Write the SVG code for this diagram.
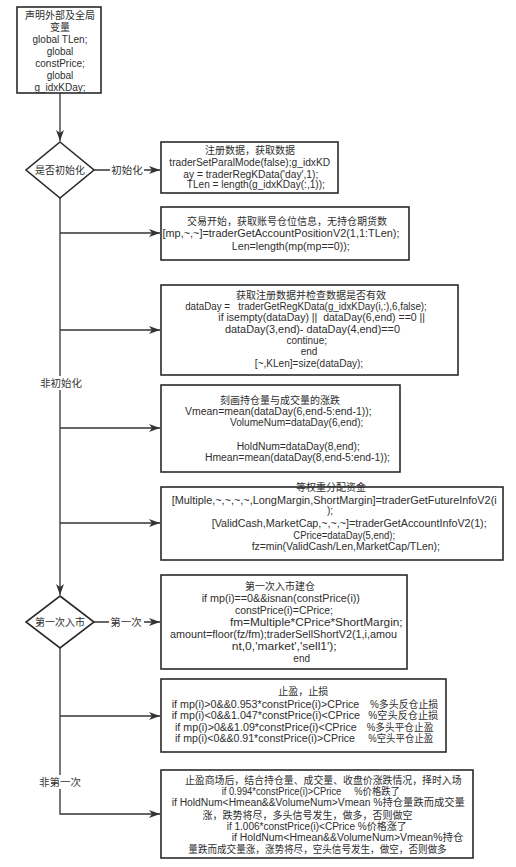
<svg xmlns="http://www.w3.org/2000/svg" width="516" height="867" viewBox="0 0 516 867">
<defs>
<style>
.box{fill:#fff;stroke:#2a2a2a;stroke-width:1.6}
.t{font-family:"Liberation Sans","Noto Sans CJK SC",sans-serif;font-size:10px;fill:#2e2e2e;text-anchor:middle;dominant-baseline:central}
.s{text-anchor:start}
.lbl{font-family:"Liberation Sans","Noto Sans CJK SC",sans-serif;font-size:10.5px;fill:#333;text-anchor:middle;dominant-baseline:central}
.ln{fill:none;stroke:#333;stroke-width:1.3}
</style>
<marker id="ah" markerUnits="userSpaceOnUse" markerWidth="12" markerHeight="10" refX="11" refY="4" orient="auto">
<path d="M0,0 L11,4 L0,8 L3,4 Z" fill="#333"/>
</marker>
</defs>
<rect width="516" height="867" fill="#fff"/>
<g id="connectors">
<line class="ln" x1="60" y1="93" x2="60" y2="141" marker-end="url(#ah)"/>
<line class="ln" x1="94" y1="170" x2="160" y2="170" marker-end="url(#ah)"/>
<line class="ln" x1="60" y1="198" x2="60" y2="595" marker-end="url(#ah)"/>
<line class="ln" x1="60" y1="233" x2="160" y2="233" marker-end="url(#ah)"/>
<line class="ln" x1="60" y1="330" x2="160" y2="330" marker-end="url(#ah)"/>
<line class="ln" x1="60" y1="428" x2="160" y2="428" marker-end="url(#ah)"/>
<line class="ln" x1="60" y1="523" x2="160" y2="523" marker-end="url(#ah)"/>
<line class="ln" x1="94" y1="622" x2="160" y2="622" marker-end="url(#ah)"/>
<line class="ln" x1="60" y1="716" x2="160" y2="716" marker-end="url(#ah)"/>
<polyline class="ln" points="60,648 60,814 160,814" marker-end="url(#ah)"/>
<rect x="110" y="163" width="34" height="14" fill="#fff"/>
<text class="lbl" x="127" y="170">初始化</text>
<rect x="40" y="376" width="42" height="14" fill="#fff"/>
<text class="lbl" x="61" y="383">非初始化</text>
<rect x="109" y="615" width="35" height="14" fill="#fff"/>
<text class="lbl" x="126" y="622">第一次</text>
<rect x="39" y="775" width="42" height="14" fill="#fff"/>
<text class="lbl" x="60" y="782">非第一次</text>
</g>
<g id="n0">
<rect class="box" x="17" y="7" width="84" height="86"/>
<text class="t" x="60" y="15">声明外部及全局</text>
<text class="t" x="60" y="27">变量</text>
<text class="t" x="60" y="39">global TLen;</text>
<text class="t" x="60" y="51">global</text>
<text class="t" x="60" y="63">constPrice;</text>
<text class="t" x="60" y="75">global</text>
<text class="t" x="60" y="87">g_idxKDay;</text>
</g>
<g id="d1">
<polygon class="box" points="60,142 94,170 60,198 26,170"/>
<text class="t" x="60" y="170">是否初始化</text>
</g>
<g id="n1">
<rect class="box" x="161" y="142" width="177" height="51"/>
<text class="t" x="250" y="150.5">注册数据，获取数据</text>
<text class="t" x="249.7" y="162.3" textLength="160.7" lengthAdjust="spacingAndGlyphs">traderSetParalMode(false);g_idxKD</text>
<text class="t" x="250.8" y="174" textLength="135" lengthAdjust="spacingAndGlyphs">ay = traderRegKData('day',1);</text>
<text class="t" x="255.8" y="184.3" textLength="138" lengthAdjust="spacingAndGlyphs">TLen = length(g_idxKDay(:,1));</text>
</g>
<g id="n2">
<rect class="box" x="161" y="207" width="248" height="53"/>
<text class="t" x="287" y="221.7">交易开始，获取账号仓位信息，无持仓期货数</text>
<text class="t" x="281" y="233.5" textLength="237" lengthAdjust="spacingAndGlyphs">[mp,~,~]=traderGetAccountPositionV2(1,1:TLen);</text>
<text class="t" x="290.8" y="246" textLength="118" lengthAdjust="spacingAndGlyphs">Len=length(mp(mp==0));</text>
</g>
<g id="n3">
<rect class="box" x="161" y="285" width="297" height="90"/>
<text class="t" x="311" y="295">获取注册数据并检查数据是否有效</text>
<text class="t" x="306" y="306.7" textLength="241.7" lengthAdjust="spacingAndGlyphs" xml:space="preserve">dataDay =   traderGetRegKData(g_idxKDay(i,:),6,false);</text>
<text class="t" x="321.7" y="317.5" textLength="206.7" lengthAdjust="spacingAndGlyphs" xml:space="preserve">if isempty(dataDay) ||  dataDay(6,end) ==0 ||</text>
<text class="t" x="312.5" y="329" textLength="175" lengthAdjust="spacingAndGlyphs">dataDay(3,end)- dataDay(4,end)==0</text>
<text class="t" x="306.7" y="340">continue;</text>
<text class="t" x="309" y="351.7">end</text>
<text class="t" x="309" y="363" textLength="108.3" lengthAdjust="spacingAndGlyphs">[~,KLen]=size(dataDay);</text>
</g>
<g id="n4">
<rect class="box" x="161" y="385" width="239" height="87"/>
<text class="t" x="280" y="400">刻画持仓量与成交量的涨跌</text>
<text class="t" x="278.3" y="411" textLength="186.7" lengthAdjust="spacingAndGlyphs">Vmean=mean(dataDay(6,end-5:end-1));</text>
<text class="t" x="296.7" y="422.3" textLength="133.3" lengthAdjust="spacingAndGlyphs">VolumeNum=dataDay(6,end);</text>
<text class="t" x="298.3" y="446.7" textLength="123.3" lengthAdjust="spacingAndGlyphs">HoldNum=dataDay(8,end);</text>
<text class="t" x="297.5" y="457.7" textLength="185" lengthAdjust="spacingAndGlyphs">Hmean=mean(dataDay(8,end-5:end-1));</text>
</g>
<g id="n5">
<rect class="box" x="161" y="487" width="342" height="73"/>
<text class="t" x="331" y="487">等权重分配资金</text>
<text class="t" x="334.2" y="500.7" textLength="325" lengthAdjust="spacingAndGlyphs">[Multiple,~,~,~,~,LongMargin,ShortMargin]=traderGetFutureInfoV2(i</text>
<text class="t" x="330" y="510.7">);</text>
<text class="t" x="349.2" y="523.3" textLength="275" lengthAdjust="spacingAndGlyphs">[ValidCash,MarketCap,~,~,~]=traderGetAccountInfoV2(1);</text>
<text class="t" x="344.2" y="535" textLength="101.7" lengthAdjust="spacingAndGlyphs">CPrice=dataDay(5,end);</text>
<text class="t" x="345.8" y="546.7" textLength="188.3" lengthAdjust="spacingAndGlyphs">fz=min(ValidCash/Len,MarketCap/TLen);</text>
</g>
<g id="d2">
<polygon class="box" points="60,596 94,622 60,648 26,622"/>
<text class="t" x="60" y="622">第一次入市</text>
</g>
<g id="n6">
<rect class="box" x="161" y="575" width="246" height="94"/>
<text class="t" x="280" y="586.5">第一次入市建仓</text>
<text class="t" x="280.8" y="598.3" textLength="158.3" lengthAdjust="spacingAndGlyphs">if mp(i)==0&amp;&amp;isnan(constPrice(i))</text>
<text class="t" x="284" y="610.7" textLength="98" lengthAdjust="spacingAndGlyphs">constPrice(i)=CPrice;</text>
<text class="t" x="316.3" y="622.7" textLength="172.7" lengthAdjust="spacingAndGlyphs">fm=Multiple*CPrice*ShortMargin;</text>
<text class="t" x="283.5" y="634.3" textLength="227" lengthAdjust="spacingAndGlyphs">amount=floor(fz/fm);traderSellShortV2(1,i,amou</text>
<text class="t" x="284.2" y="646" textLength="105" lengthAdjust="spacingAndGlyphs">nt,0,'market','sell1');</text>
<text class="t" x="301.7" y="658.3">end</text>
</g>
<g id="n7">
<rect class="box" x="161" y="679" width="285" height="73"/>
<text class="t" x="303.3" y="691.7">止盈，止损</text>
<text class="t s" x="171.7" y="704.3" textLength="187.6" lengthAdjust="spacingAndGlyphs">if mp(i)&gt;0&amp;&amp;0.953*constPrice(i)&gt;CPrice</text>
<text class="t s" x="370" y="704.3" textLength="68.3" lengthAdjust="spacingAndGlyphs">%多头反仓止损</text>
<text class="t s" x="171.7" y="715.7" textLength="188.3" lengthAdjust="spacingAndGlyphs">if mp(i)&lt;0&amp;&amp;1.047*constPrice(i)&lt;CPrice</text>
<text class="t s" x="368.3" y="715.7" textLength="70" lengthAdjust="spacingAndGlyphs">%空头反仓止损</text>
<text class="t s" x="175" y="727.3" textLength="181.7" lengthAdjust="spacingAndGlyphs">if mp(i)&gt;0&amp;&amp;1.09*constPrice(i)&lt;CPrice</text>
<text class="t s" x="366.7" y="727.3" textLength="66.7" lengthAdjust="spacingAndGlyphs">%多头平仓止盈</text>
<text class="t s" x="175" y="738.3" textLength="180" lengthAdjust="spacingAndGlyphs">if mp(i)&lt;0&amp;&amp;0.91*constPrice(i)&gt;CPrice</text>
<text class="t s" x="368.3" y="738.3" textLength="65" lengthAdjust="spacingAndGlyphs">%空头平仓止盈</text>
</g>
<g id="n8">
<rect class="box" x="161" y="770" width="312" height="88"/>
<text class="t" x="323.3" y="780" textLength="276.7" lengthAdjust="spacingAndGlyphs">止盈商场后，结合持仓量、成交量、收盘价涨跌情况，择时入场</text>
<text class="t" x="310.8" y="791.7" textLength="178.3" lengthAdjust="spacingAndGlyphs" xml:space="preserve">if 0.994*constPrice(i)&gt;CPrice     %价格跌了</text>
<text class="t" x="318.3" y="802.7" textLength="293.3" lengthAdjust="spacingAndGlyphs">if HoldNum&lt;Hmean&amp;&amp;VolumeNum&gt;Vmean %持仓量跌而成交量</text>
<text class="t" x="307.5" y="815">涨，跌势将尽，多头信号发生，做多，否则做空</text>
<text class="t" x="316.7" y="826.7" textLength="180" lengthAdjust="spacingAndGlyphs">if 1.006*constPrice(i)&lt;CPrice %价格涨了</text>
<text class="t" x="347.5" y="837.7" textLength="231.7" lengthAdjust="spacingAndGlyphs">if HoldNum&lt;Hmean&amp;&amp;VolumeNum&gt;Vmean%持仓</text>
<text class="t" x="317.5" y="849" textLength="258.3" lengthAdjust="spacingAndGlyphs">量跌而成交量涨，涨势将尽，空头信号发生，做空，否则做多</text>
</g>
</svg>
